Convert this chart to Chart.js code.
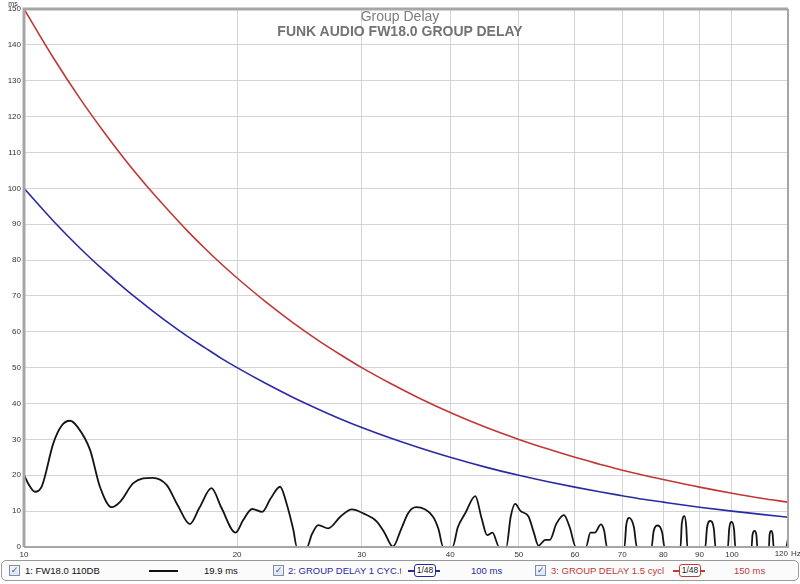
<!DOCTYPE html>
<html>
<head>
<meta charset="utf-8">
<script src="https://cdn.jsdelivr.net/npm/chart.js@4"></script>
<style>
  html, body { margin:0; padding:0; background:#ffffff; }
  #wrap { position:relative; width:800px; height:584px; overflow:hidden; font-family:"Liberation Sans", Arial, sans-serif; }
  #c { position:absolute; left:0; top:0; }
  .t1 { position:absolute; left:0; width:800px; text-align:center; color:#7d7d7d; font-size:14px; }
  #legend { position:absolute; left:1px; top:560px; width:796px; height:19px; border:1px solid #9a9a9a; border-radius:5px; background:#fbfbfb; }
  .it { position:absolute; top:4px; font-size:9.5px; line-height:12px; white-space:nowrap; }
  .cb { position:absolute; top:4px; width:9px; height:9px; border:1px solid #7f8ea8; background:linear-gradient(#f4f6fa,#dfe4ee); color:#3a56a8; font-size:9px; line-height:9px; text-align:center; font-family:"DejaVu Sans", sans-serif; }
  .ln { position:absolute; height:2px; }
  .sm { position:absolute; top:3px; height:11px; border-width:1.5px; border-style:solid; border-radius:3px; font-size:8.5px; line-height:11px; text-align:center; color:#222; background:#fff; }
</style>
</head>
<body>
<div id="wrap">
  <canvas id="c" width="800" height="584"></canvas>
  <div class="t1" style="top:8px;">Group Delay</div>
  <div class="t1" style="top:23px;font-weight:bold;color:#737373;">FUNK AUDIO FW18.0 GROUP DELAY</div>
  <div id="legend">
    <div class="cb" style="left:7px;">✓</div>
    <div class="it" style="left:23px;color:#111;">1: FW18.0 110DB</div>
    <div class="ln" style="left:147px;width:29px;top:9px;background:#111;"></div>
    <div class="it" style="left:202px;color:#111;">19.9 ms</div>

    <div class="cb" style="left:271px;">✓</div>
    <div class="it" style="left:286px;color:#2a2aa0;width:113px;overflow:hidden;">2: GROUP DELAY 1 CYC.txt</div>
    <div class="ln" style="left:406px;width:32px;top:9px;height:1.5px;background:#2a2aa0;"></div>
    <div class="sm" style="left:412px;width:20px;border-color:#2a2aa0;">1/48</div>
    <div class="it" style="left:469px;color:#2a2aa0;">100 ms</div>

    <div class="cb" style="left:533px;">✓</div>
    <div class="it" style="left:549px;color:#c03a3a;width:117px;overflow:hidden;">3: GROUP DELAY 1.5 cycl</div>
    <div class="ln" style="left:671px;width:32px;top:9px;height:1.5px;background:#c03a3a;"></div>
    <div class="sm" style="left:677px;width:20px;border-color:#c03a3a;">1/48</div>
    <div class="it" style="left:732px;color:#c03a3a;">150 ms</div>
  </div>
</div>
<script>
// ---- data ----
const xTickValues = [10, 20, 30, 40, 50, 60, 70, 80, 90, 100, 120];
const yTickStep = 10;

const fw18Freq = [10, 10.15, 10.36, 10.6, 11.0, 11.3, 11.61, 11.9, 12.4, 12.8, 13.3, 13.7, 14.27, 15.2, 15.9, 16.5, 17.15, 17.7, 18.4, 19.0, 19.9, 20.4, 21.0, 21.7, 22.3, 23.0, 23.5, 24.0, 24.3, 25.1, 25.5, 26.05, 26.9, 28.0, 29.05, 30.2, 31.5, 32.3, 33.2, 34.1, 34.9, 35.8, 37.8, 38.5, 39.1, 40.3, 41.0, 42.0, 43.4, 44.3, 45.1, 45.9, 46.9, 48.0, 48.7, 49.4, 50.3, 51.6, 52.5, 53.3, 54.5, 55.3, 56.5, 57.9, 59.0, 60.2, 62.2, 63.1, 64.0, 65.3, 66.0, 66.6, 70.5, 70.9, 71.6, 72.7, 73.4, 77.0, 77.5, 78.6, 79.7, 80.3, 84.6, 84.95, 85.7, 86.2, 86.5, 91.7, 92.2, 93.2, 94.3, 94.8, 98.7, 99.1, 99.9, 100.7, 101.1, 106.6, 106.9, 107.6, 108.3, 108.6, 112.8, 113.0, 113.6, 114.2, 114.5, 119.3, 120];
const fw18Delay = [20.1, 17.5, 15.4, 17.0, 28.9, 33.8, 35.2, 33.5, 27.0, 16.8, 11.1, 12.8, 17.8, 19.3, 17.3, 11.5, 6.4, 11.0, 16.4, 11.0, 4.0, 7.5, 10.6, 9.8, 13.5, 16.8, 12.0, 5.0, 0, 0, 3.5, 6.1, 5.2, 8.5, 10.5, 9.3, 7.1, 4.0, 0.1, 5.0, 9.5, 11.1, 8.5, 5.0, 0, 0, 5.5, 9.4, 14.2, 8.0, 3.3, 4.0, 0, 0, 8.5, 12.0, 10.0, 8.5, 4.0, 0.4, 2.0, 2.0, 6.5, 8.9, 5.5, 0, 0, 4.0, 4.0, 6.3, 4.5, 0, 0, 6.0, 8.1, 5.5, 0, 0, 4.3, 6.0, 4.0, 0, 0, 6.5, 8.6, 5.5, 0, 0, 5.3, 7.3, 5.0, 0, 0, 5.0, 7.0, 4.8, 0, 0, 3.3, 4.5, 3.2, 0, 0, 3.3, 4.5, 3.2, 0, 0, 2.4];

const cycFreq = [10, 11, 12, 13, 14, 15, 16, 17, 18, 19, 20, 22, 24, 26, 28, 30, 33, 36, 40, 45, 50, 55, 60, 65, 70, 75, 80, 90, 100, 110, 120];
const oneCycleDelay = [100, 90.9, 83.3, 76.9, 71.4, 66.7, 62.5, 58.8, 55.6, 52.6, 50, 45.5, 41.7, 38.5, 35.7, 33.3, 30.3, 27.8, 25, 22.2, 20, 18.2, 16.7, 15.4, 14.3, 13.3, 12.5, 11.1, 10, 9.1, 8.3];
const oneHalfCycleDelay = [150, 136.4, 125, 115.4, 107.1, 100, 93.8, 88.2, 83.3, 78.9, 75, 68.2, 62.5, 57.7, 53.6, 50, 45.5, 41.7, 37.5, 33.3, 30, 27.3, 25, 23.1, 21.4, 20, 18.8, 16.7, 15, 13.6, 12.5];
const xLastLabel = '120';
const xUnit = 'Hz';
const yUnit = 'ms';

const pts = (xs, ys) => xs.map((x, i) => ({ x: x, y: ys[i] }));

const framePlugin = {
  id: 'frame',
  afterDraw(chart) {
    const { ctx, chartArea: a } = chart;
    ctx.save();
    ctx.strokeStyle = '#a6a6a6';
    ctx.lineWidth = 3;
    ctx.beginPath();
    ctx.moveTo(a.left, a.bottom);
    ctx.lineTo(a.left, a.top);
    ctx.lineTo(a.right, a.top);
    ctx.stroke();
    ctx.beginPath();
    ctx.lineWidth = 2;
    ctx.moveTo(a.right, a.top);
    ctx.lineTo(a.right, a.bottom);
    ctx.lineTo(a.left, a.bottom);
    ctx.stroke();
    ctx.fillStyle = '#333';
    ctx.font = '7px "Liberation Sans", Arial, sans-serif';
    ctx.textAlign = 'center';
    ctx.textBaseline = 'alphabetic';
    ctx.fillText(yUnit, 13, 6);
    ctx.font = '8px "Liberation Sans", Arial, sans-serif';
    ctx.textBaseline = 'top';
    ctx.textAlign = 'right';
    ctx.fillText(xLastLabel, a.right, a.bottom + 3);
    ctx.textAlign = 'left';
    ctx.fillText(xUnit, a.right + 3, a.bottom + 3);
    ctx.restore();
  }
};

new Chart(document.getElementById('c'), {
  type: 'line',
  data: {
    datasets: [
      { label: '1: FW18.0 110DB', data: pts(fw18Freq, fw18Delay), borderColor: '#141414', borderWidth: 1.8, pointRadius: 0, cubicInterpolationMode: 'monotone', order: 3 },
      { label: '2: GROUP DELAY 1 CYC.txt', data: pts(cycFreq, oneCycleDelay), borderColor: '#2a2aa4', borderWidth: 1.6, pointRadius: 0, cubicInterpolationMode: 'monotone', order: 2 },
      { label: '3: GROUP DELAY 1.5 cycl', data: pts(cycFreq, oneHalfCycleDelay), borderColor: '#c23636', borderWidth: 1.6, pointRadius: 0, cubicInterpolationMode: 'monotone', order: 1 }
    ]
  },
  options: {
    responsive: false,
    animation: false,
    devicePixelRatio: 1,
    layout: { padding: { top: 9, right: 12, bottom: 0, left: 0 } },
    plugins: { legend: { display: false }, tooltip: { enabled: false }, title: { display: false } },
    scales: {
      x: {
        type: 'logarithmic',
        min: 10, max: 120,
        afterBuildTicks(scale) { scale.ticks = xTickValues.map(v => ({ value: v })); },
        afterFit(scale) { scale.height = 37; },
        grid: { color: '#d4d4d4', lineWidth: 1, drawTicks: false },
        border: { display: false },
        ticks: {
          autoSkip: false, maxRotation: 0, padding: 3,
          color: '#333', font: { size: 8, family: '"Liberation Sans", Arial, sans-serif' },
          callback: (v) => (String(v) === xLastLabel ? '' : String(v))
        }
      },
      y: {
        min: 0, max: 150,
        afterFit(scale) { scale.width = 24; },
        grid: { color: '#d4d4d4', lineWidth: 1, drawTicks: false },
        border: { display: false },
        ticks: {
          stepSize: yTickStep, padding: 3,
          color: '#333', font: { size: 8, family: '"Liberation Sans", Arial, sans-serif' }
        }
      }
    }
  },
  plugins: [framePlugin]
});
</script>
</body>
</html>
